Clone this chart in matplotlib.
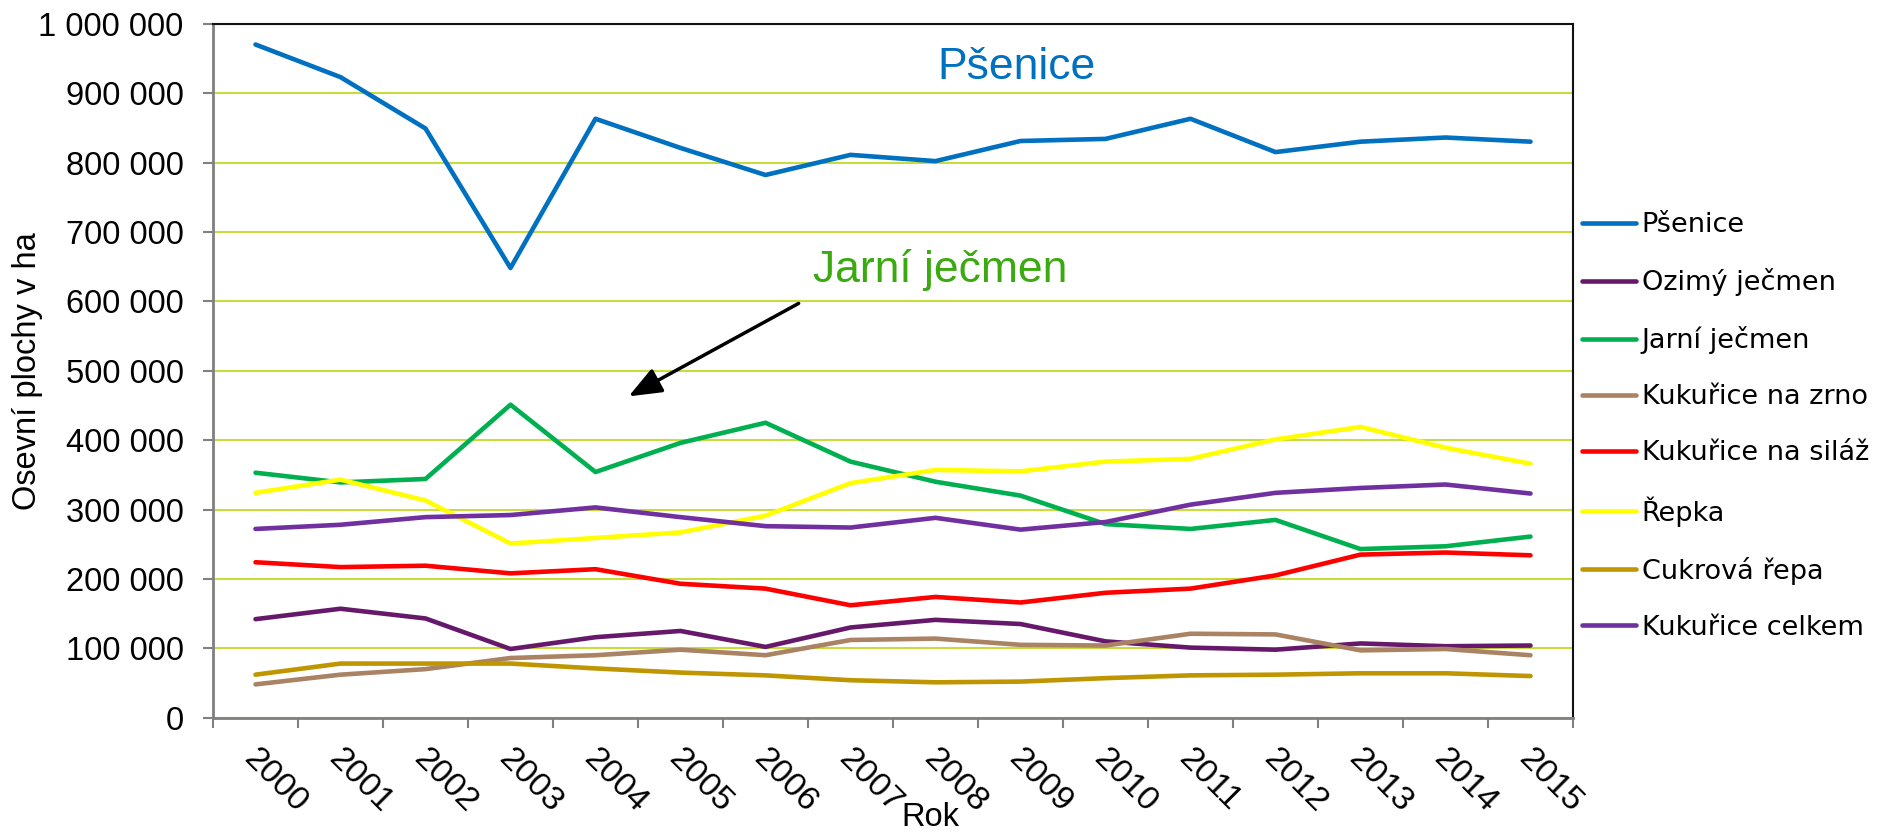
import numpy as np
import matplotlib
matplotlib.use("Agg")
import matplotlib.pyplot as plt
from matplotlib.ticker import FuncFormatter
from matplotlib.transforms import ScaledTranslation

plt.rcParams['font.family'] = ['Liberation Sans', 'DejaVu Sans']

years = [str(y) for y in range(2000, 2016)]

psenice = [970000, 923000, 849000, 648000, 863000, 821000, 782000, 811000,
           802000, 831000, 834000, 863000, 815000, 830000, 836000, 830000]
ozimy_jecmen = [142000, 157000, 143000, 99000, 116000, 125000, 102000, 130000,
                141000, 135000, 110000, 101000, 98000, 107000, 103000, 104000]
jarni_jecmen = [353000, 339000, 344000, 451000, 354000, 396000, 425000, 369000,
                340000, 320000, 279000, 272000, 285000, 243000, 247000, 261000]
kukurice_zrno = [48000, 62000, 70000, 86000, 90000, 98000, 90000, 112000,
                 114000, 105000, 104000, 121000, 120000, 97000, 99000, 90000]
kukurice_silaz = [224000, 217000, 219000, 208000, 214000, 193000, 186000, 162000,
                  174000, 166000, 180000, 186000, 205000, 235000, 238000, 234000]
repka = [324000, 343000, 313000, 251000, 259000, 267000, 291000, 338000,
         357000, 355000, 369000, 373000, 401000, 419000, 389000, 366000]
cukrova_repa = [62000, 78000, 78000, 78000, 71000, 65000, 61000, 54000,
                51000, 52000, 57000, 61000, 62000, 64000, 64000, 60000]
kukurice_celkem = [272000, 278000, 289000, 292000, 303000, 289000, 276000, 274000,
                   288000, 271000, 282000, 307000, 324000, 331000, 336000, 323000]

series = [
    ("Pšenice", psenice, "#0070C0"),
    ("Ozimý ječmen", ozimy_jecmen, "#66196A"),
    ("Jarní ječmen", jarni_jecmen, "#00B050"),
    ("Kukuřice na zrno", kukurice_zrno, "#AA8264"),
    ("Kukuřice na siláž", kukurice_silaz, "#FF0000"),
    ("Řepka", repka, "#FFFF00"),
    ("Cukrová řepa", cukrova_repa, "#BF9500"),
    ("Kukuřice celkem", kukurice_celkem, "#7030A0"),
]

fig = plt.figure(figsize=(18.77, 8.32), dpi=100)
ax = fig.add_axes([213/1877, 1 - 717.7/832, 1360/1877, 694/832])

x = np.arange(len(years))
for name, vals, col in series:
    ax.plot(x, vals, color=col, lw=3.3, label=name, solid_capstyle='round')

ax.set_xlim(-0.5, len(years) - 0.5)
ax.set_ylim(0, 1000000)

# y axis
ax.set_yticks(np.arange(0, 1000001, 100000))
ax.yaxis.set_major_formatter(FuncFormatter(lambda v, p: f"{int(v):,}".replace(",", " ")))
ax.tick_params(axis='y', which='major', length=7.2, width=1.5, color='#808080',
               pad=14, labelsize=23.5)
ax.yaxis.grid(True, color='#C8DC3C', lw=1.5)
ax.set_axisbelow(True)

# x axis: ticks at category borders, labels at centres
ax.set_xticks(np.arange(-0.5, len(years), 1))
ax.set_xticklabels([])
ax.set_xticks(x, minor=True)
ax.set_xticklabels(years, minor=True, rotation=-45, ha='left', va='top', fontsize=24.5)
ax.tick_params(axis='x', which='major', length=7.5, width=1.5, color='#808080')
ax.tick_params(axis='x', which='minor', length=0, pad=18)
for lbl in ax.get_xticklabels(minor=True):
    lbl.set_transform(lbl.get_transform() + ScaledTranslation(-0.18, 0, fig.dpi_scale_trans))

for side in ['left', 'bottom']:
    ax.spines[side].set_color('#808080')
    ax.spines[side].set_linewidth(2)
for side in ['top', 'right']:
    ax.spines[side].set_color('#111111')
    ax.spines[side].set_linewidth(1.5)

fig.text(28/1877, 1 - 371/832, "Osevní plochy v ha", rotation=90,
         ha='center', va='center', fontsize=23.5)
fig.text(930/1877, 1 - 818/832, "Rok", ha='center', va='center', fontsize=23.5)

# annotations
ax.text(8.95, 920000, "Pšenice", color='#0070C0', fontsize=32,
        ha='center', va='baseline')
ax.text(8.05, 628000, "Jarní ječmen", color='#3AAA10', fontsize=32,
        ha='center', va='baseline')
ax.annotate("", xy=(4.39, 463000), xytext=(6.39, 597000),
            arrowprops=dict(arrowstyle='-|>,head_length=1.0,head_width=0.4',
                            mutation_scale=20, lw=2.5, color='black',
                            shrinkA=0, shrinkB=0))

ax.legend(loc='center left', bbox_to_anchor=(1582/1877, 1 - 426.5/832),
          bbox_transform=fig.transFigure, frameon=False, borderpad=0,
          borderaxespad=0, handlelength=2.0, handletextpad=0.2,
          labelspacing=1.11, prop={'family': 'DejaVu Sans', 'size': 19.5})

fig.savefig("out.png", dpi=100)
